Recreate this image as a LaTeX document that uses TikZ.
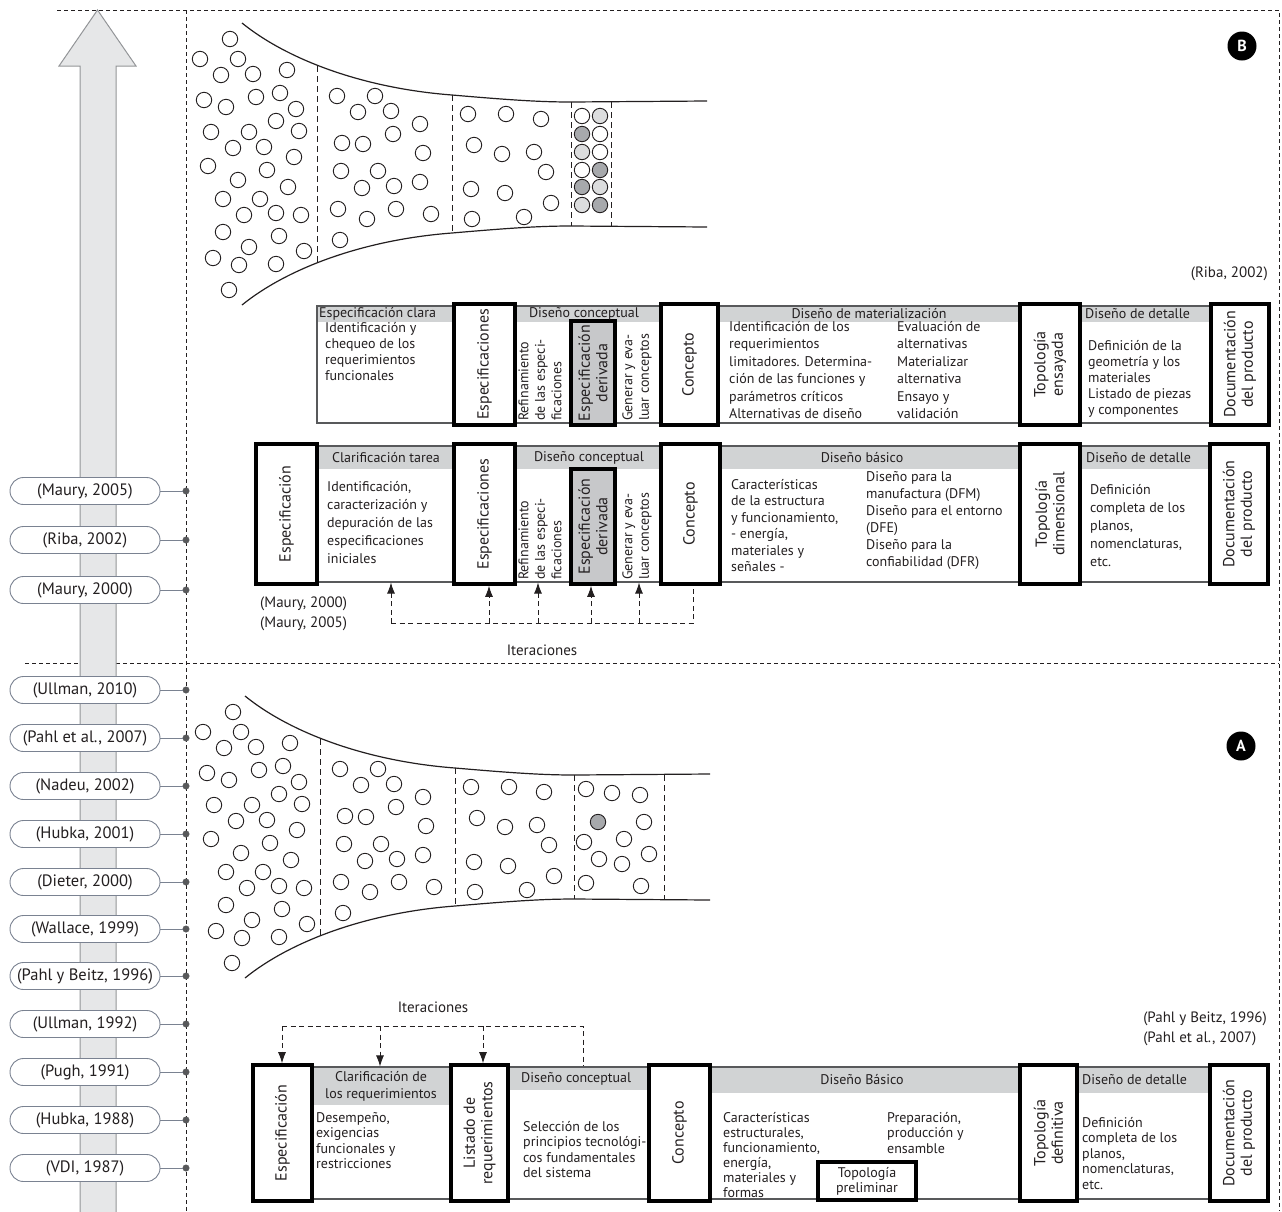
\documentclass[tikz,border=0pt]{standalone}
\usepackage{fontspec}
\setmainfont{PT Sans}
\usepackage{tikz}
\usetikzlibrary{arrows.meta,positioning}
\definecolor{ctext}{HTML}{231F20}
\definecolor{cframe}{HTML}{58595B}
\definecolor{chead}{HTML}{D1D3D4}
\definecolor{cderiv}{HTML}{C7C8CA}
\definecolor{carrow}{HTML}{E6E7E8}
\definecolor{carrowD}{HTML}{939598}
\definecolor{cpill}{HTML}{7A8291}
\definecolor{cdot}{HTML}{58595B}
\definecolor{cbubL}{HTML}{DCDDDE}
\definecolor{cbubD}{HTML}{A7A9AC}
\tikzset{
  frameline/.style={line width=0.9pt, dash pattern=on 4pt off 3pt, draw=ctext},
  bigarrow/.style={fill=carrow, draw=carrowD, line width=1pt},
  pill/.style={draw=cpill, fill=white, line width=0.9pt, rounded corners=13.5pt,
               minimum width=150pt, minimum height=27pt, inner sep=0pt,
               font=\fontsize{16.5}{18}\selectfont},
  dotmark/.style={circle, fill=cdot, draw=cdot, minimum size=6.5pt, inner sep=0pt},
  dotline/.style={draw=cpill, line width=0.9pt},
  funnel/.style={line width=1.2pt, draw=ctext},
  secline/.style={line width=0.8pt, dash pattern=on 6pt off 4pt, draw=ctext},
  bub/.style={draw=ctext, line width=0.9pt, fill=white},
  badge/.style={circle, fill=black, text=white, minimum size=29pt, inner sep=0pt,
                font=\bfseries\fontsize{16}{16}\selectfont},
  rowframe/.style={draw=cframe, line width=1.1pt, inner sep=0pt},
  hdr/.style={fill=chead},
  kbox/.style={draw=black, line width=3.6pt, fill=white, inner sep=0pt, align=center,
               font=\fontsize{16}{17.5}\selectfont},
  vbox/.style={kbox, rotate=90},
  htext/.style={inner sep=0pt, font=\fontsize{14}{16}\selectfont},
  btext/.style={anchor=north west, align=left, inner sep=0pt,
                font=\fontsize{14}{16}\selectfont},
  vtext/.style={rotate=90, anchor=west, align=left, inner sep=0pt,
                font=\fontsize{14}{16.5}\selectfont},
  reftext/.style={inner sep=0pt, align=left, font=\fontsize{15}{20}\selectfont},
  iterline/.style={line width=0.9pt, dash pattern=on 5pt off 3.5pt, draw=ctext},
  iterarrow/.style={iterline, -{Latex[length=11pt, width=8pt]}},
}
% funnel outline, common section lines and bubbles (B coordinates)
\newcommand{\funnelcore}{%
  \draw[funnel] (242,23) .. controls (285,58) and (360,88) .. (452,95)
    .. controls (510,100) and (540,102) .. (571,102) -- (707,101);
  \draw[funnel] (242,305) .. controls (285,270) and (360,240) .. (452,233)
    .. controls (510,228) and (540,226) .. (571,226) -- (707,227);
  \draw[secline] (317,66) -- (317,262);
  \draw[secline] (452,95) -- (452,233);
  \draw[secline] (571,102) -- (571,226);
  \foreach \x/\y in {230/39, 200/59, 238/59, 221/75, 253/74, 287/70, 204/100,
      226/107, 256/97, 280/93, 296/109, 276/121, 211/132, 249/132, 299/131,
      233/148, 264/147, 208/166, 294/157, 267/170, 238/180, 288/187, 223/199,
      260/199, 244/215, 276/213, 301/215, 223/232, 279/236, 249/247, 304/251,
      213/258, 239/265, 276/264, 229/290,
      337/96, 375/96, 358/112, 391/111, 420/124, 342/143, 363/144, 393/134,
      423/153, 341/171, 378/171, 362/188, 394/186, 420/182, 338/209, 367/219,
      396/209, 431/214, 340/240,
      468/114, 506/114, 541/119, 474/145, 502/154, 534/152, 546/172, 471/189,
      505/193, 551/203, 524/217, 472/219}
    \draw[bub] (\x,\y) circle (7.7pt);
}

\begin{document}
\begin{tikzpicture}[x=1pt, y=-1pt, text=ctext]
  \useasboundingbox (0,0) rectangle (1282,1211);

  % dashed frame
  \draw[frameline] (57,10) -- (1279,10) -- (1279,1211);
  \draw[frameline] (186,10) -- (186,1211);
  \draw[frameline] (25,663) -- (1279,663);

  % time arrow
  \filldraw[bigarrow] (80,1213) -- (80,66) -- (59,66) -- (97.5,10) -- (136,66)
    -- (116,66) -- (116,1213);

  % references on the time line
  \node[pill] (pM05) at (85,491) {(Maury, 2005)};
  \node[pill] (pR02) at (85,540) {(Riba, 2002)};
  \node[pill] (pM00) at (85,590) {(Maury, 2000)};
  \node[pill] (pU10) at (85,690) {(Ullman, 2010)};
  \node[pill] (pP07) at (85,738) {(Pahl et al., 2007)};
  \node[pill] (pN02) at (85,786) {(Nadeu, 2002)};
  \node[pill] (pH01) at (85,834) {(Hubka, 2001)};
  \node[pill] (pD00) at (85,882) {(Dieter, 2000)};
  \node[pill] (pW99) at (85,929) {(Wallace, 1999)};
  \node[pill] (pP96) at (85,976) {(Pahl y Beitz, 1996)};
  \node[pill] (pU92) at (85,1024) {(Ullman, 1992)};
  \node[pill] (pG91) at (85,1072) {(Pugh, 1991)};
  \node[pill] (pH88) at (85,1120) {(Hubka, 1988)};
  \node[pill] (pV87) at (85,1168) {(VDI, 1987)};
  \foreach \n in {M05,R02,M00,U10,P07,N02,H01,D00,W99,P96,U92,G91,H88,V87} {
    \node[dotmark] (d\n) at (186,0 |- p\n) {};
    \draw[dotline] (p\n) -- (d\n);
  }

  % ---------------- B ----------------
  \funnelcore
  \draw[secline] (611,102) -- (611,226);
  \foreach \x/\y/\f in {582/116/white, 600/116/cbubL, 582/134/cbubD, 600/134/white,
      582/152/cbubL, 600/152/white, 582/170/white, 600/170/cbubD,
      582/187/cbubD, 600/187/cbubL, 582/205/cbubL, 600/205/cbubD}
    \draw[bub, fill=\f] (\x,\y) circle (7.7pt);
  \node[badge] (bB) at (1242,46) {B};
  \node[reftext, anchor=east] (rRiba) at (1268,274) {(Riba, 2002)};

  % row B1 (Riba)
  \fill[hdr] (317,306) rectangle (1269,322);
  \node[rowframe, minimum width=952pt, minimum height=117pt] (frB1) at (793,364.5) {};
  \node[vbox, minimum width=121pt, minimum height=61pt] (speB1) at (484.5,364.5) {Especificaciones};
  \node[vbox, fill=cderiv, minimum width=104pt, minimum height=44pt] (derB1) at (593,373) {Especificación\\derivada};
  \node[vbox, minimum width=121pt, minimum height=57pt] (conB1) at (689.5,364.5) {Concepto};
  \node[vbox, minimum width=121pt, minimum height=60pt] (topB1) at (1050,364.5) {Topología\\ensayada};
  \node[vbox, minimum width=121pt, minimum height=58pt] (docB1) at (1240,364.5) {Documentación\\del producto};
  \node[htext, anchor=west] (hEC1) at (319,314) {Especificación clara};
  \node[htext] (hDC1) at (584,314) {Diseño conceptual};
  \node[htext] (hDM1) at (869,314) {Diseño de materialización};
  \node[htext, anchor=west] (hDD1) at (1085,314) {Diseño de detalle};
  \node[btext] (tEC1) at (325,322) {Identificación y\\chequeo de los\\requerimientos\\funcionales};
  \node[vtext] (refB1) at (540,421) {Refinamiento\\de las especi-\\ficaciones};
  \node[vtext] (genB1) at (637,421) {Generar y eva-\\luar conceptos};
  \node[btext, font=\fontsize{14}{17.5}\selectfont] (tDM1) at (729,321)
    {Identificación de los\\requerimientos\\limitadores. Determina-\\ción de las funciones y\\parámetros críticos\\Alternativas de diseño};
  \node[btext, font=\fontsize{14}{17.5}\selectfont] (tEV1) at (897,321)
    {Evaluación de\\alternativas\\Materializar\\alternativa\\Ensayo y\\validación};
  \node[btext] (tDD1) at (1088,340) {Definición de la\\geometría y los\\materiales\\Listado de piezas\\y componentes};

  % row B2 (Maury)
  \fill[hdr] (317,446) rectangle (1269,469);
  \node[rowframe, minimum width=952pt, minimum height=136pt] (frB2) at (793,514) {};
  \node[vbox, minimum width=140pt, minimum height=61pt] (espB2) at (286.5,514) {Especificación};
  \node[vbox, minimum width=140pt, minimum height=61pt] (speB2) at (484.5,514) {Especificaciones};
  \node[vbox, fill=cderiv, minimum width=115pt, minimum height=44pt] (derB2) at (593,526.5) {Especificación\\derivada};
  \node[vbox, minimum width=140pt, minimum height=59pt] (conB2) at (690.5,514) {Concepto};
  \node[vbox, minimum width=140pt, minimum height=60pt] (topB2) at (1050,514) {Topología\\dimensional};
  \node[vbox, minimum width=140pt, minimum height=58pt] (docB2) at (1239,514) {Documentación\\del producto};
  \node[htext] (hCT2) at (386,457.5) {Clarificación tarea};
  \node[htext] (hDC2) at (589,457.5) {Diseño conceptual};
  \node[htext] (hDB2) at (862,457.5) {Diseño básico};
  \node[htext, anchor=west] (hDD2) at (1086,457.5) {Diseño de detalle};
  \node[btext, font=\fontsize{14}{18}\selectfont] (tCT2) at (327,481)
    {Identificación,\\caracterización y\\depuración de las\\especificaciones\\iniciales};
  \node[vtext] (refB2) at (540,580) {Refinamiento\\de las especi-\\ficaciones};
  \node[vtext] (genB2) at (637,580) {Generar y eva-\\luar conceptos};
  \node[btext, font=\fontsize{14}{16.5}\selectfont] (tDB2) at (731,479)
    {Características\\de la estructura\\y funcionamiento,\\- energía,\\materiales y\\señales -};
  \node[btext, font=\fontsize{14}{17}\selectfont] (tDF2) at (866,471)
    {Diseño para la\\manufactura (DFM)\\Diseño para el entorno\\(DFE)\\Diseño para la\\confiabilidad (DFR)};
  \node[btext, font=\fontsize{14}{18}\selectfont] (tDD2) at (1090,484)
    {Definición\\completa de los\\planos,\\nomenclaturas,\\etc.};
  \node[reftext, anchor=north west] (rMaury) at (260,597) {(Maury, 2000)\\(Maury, 2005)};

  % iterations B
  \coordinate (iB1) at (391,623);
  \coordinate (iB2) at (489,623);
  \coordinate (iB3) at (538,623);
  \coordinate (iB4) at (591,623);
  \coordinate (iB5) at (639,623);
  \coordinate (iB6) at (693,623);
  \draw[iterline] (iB1) -- (iB6) -- (iB6 |- conB2.west);
  \draw[iterarrow] (iB1) -- (iB1 |- frB2.south);
  \draw[iterarrow] (iB2) -- (iB2 |- speB2.west);
  \draw[iterarrow] (iB3) -- (iB3 |- frB2.south);
  \draw[iterarrow] (iB4) -- (iB4 |- derB2.west);
  \draw[iterarrow] (iB5) -- (iB5 |- frB2.south);
  \node[reftext] (itB) at (542,650) {Iteraciones};

  % ---------------- A ----------------
  \begin{scope}[shift={(3,673)}]
    \funnelcore
    \draw[secline] (661,102) -- (661,226);
    \foreach \x/\y/\f in {583/116/white, 609/120/white, 637/122/white, 595/149/cbubD,
        641/149/white, 581/169/white, 621/166/white, 596/186/white, 619/191/white,
        646/181/white, 583/210/white, 638/213/white}
      \draw[bub, fill=\f] (\x,\y) circle (7.7pt);
  \end{scope}
  \node[badge] (bA) at (1241,746) {A};
  \node[reftext, anchor=north east] (rPahl) at (1267,1012) {(Pahl y Beitz, 1996)\\(Pahl et al., 2007)};

  % row A (Pahl)
  \fill[hdr] (312,1067) rectangle (451,1105);
  \fill[hdr] (508,1067) rectangle (649,1090);
  \fill[hdr] (710,1067) rectangle (1269,1093);
  \node[rowframe, minimum width=957pt, minimum height=132pt] (frA) at (790.5,1133) {};
  \node[vbox, minimum width=136pt, minimum height=59pt] (espA) at (282.5,1133) {Especificación};
  \node[vbox, minimum width=136pt, minimum height=57pt] (lisA) at (479.5,1133) {Listado de\\requerimientos};
  \node[vbox, minimum width=136pt, minimum height=61pt] (conA) at (679.5,1133) {Concepto};
  \node[vbox, minimum width=136pt, minimum height=57pt] (topA) at (1048.5,1133) {Topología\\definitiva};
  \node[vbox, minimum width=136pt, minimum height=58pt] (docA) at (1239,1133) {Documentación\\del producto};
  \node[kbox, minimum width=98pt, minimum height=38pt, font=\fontsize{14}{15}\selectfont] (tprA) at (867,1181) {Topología\\preliminar};
  \node[htext, align=center, font=\fontsize{14}{17}\selectfont] (hCR) at (381,1086) {Clarificación de\\los requerimientos};
  \node[htext, anchor=west] (hDCA) at (521,1079) {Diseño conceptual};
  \node[htext] (hDBA) at (862,1080) {Diseño Básico};
  \node[htext, anchor=west] (hDDA) at (1082,1080) {Diseño de detalle};
  \node[btext, font=\fontsize{14}{15.5}\selectfont] (tDE) at (316,1112)
    {Desempeño,\\exigencias\\funcionales y\\restricciones};
  \node[btext, font=\fontsize{14}{15.5}\selectfont] (tSE) at (523,1121)
    {Selección de los\\principios tecnológi-\\cos fundamentales\\del sistema};
  \node[btext, font=\fontsize{14}{15}\selectfont] (tCA) at (723,1112)
    {Características\\estructurales,\\funcionamiento,\\energía,\\materiales y\\formas};
  \node[btext, font=\fontsize{14}{15.5}\selectfont] (tPR) at (887,1112)
    {Preparación,\\producción y\\ensamble};
  \node[btext, font=\fontsize{14}{15.5}\selectfont] (tDDA) at (1082,1117)
    {Definición\\completa de los\\planos,\\nomenclaturas,\\etc.};

  % iterations A
  \coordinate (iA0) at (282,1026);
  \coordinate (iA1) at (380,1026);
  \coordinate (iA2) at (483,1026);
  \coordinate (iA3) at (583,1026);
  \draw[iterline] (iA0) -- (iA3) -- (iA3 |- frA.north);
  \draw[iterarrow] (iA0) -- (iA0 |- espA.east);
  \draw[iterarrow] (iA1) -- (iA1 |- frA.north);
  \draw[iterarrow] (iA2) -- (iA2 |- lisA.east);
  \node[reftext] (itA) at (433,1007) {Iteraciones};
\end{tikzpicture}
\end{document}
